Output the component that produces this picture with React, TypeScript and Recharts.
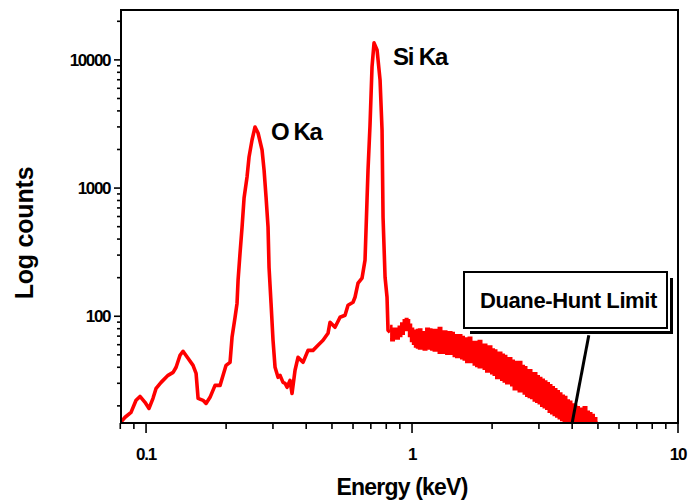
import React from 'react';
import { ComposedChart, Line, Area, XAxis, YAxis, ReferenceArea, ReferenceLine } from 'recharts';

// Smooth part of the spectrum (keV, counts)
const lineEnergy = [0.0805, 0.0834, 0.0878, 0.0917, 0.0949, 0.0991, 0.1026, 0.1062, 0.1091, 0.1139, 0.121, 0.1264, 0.1297, 0.1342, 0.1377, 0.1438, 0.1502, 0.1542, 0.1569, 0.1638, 0.1681, 0.174, 0.1817, 0.1898, 0.1948, 0.1999, 0.2069, 0.2105, 0.2161, 0.2198, 0.2218, 0.2256, 0.2296, 0.2336, 0.2397, 0.2439, 0.2503, 0.2569, 0.2637, 0.273, 0.2778, 0.2826, 0.2875, 0.29, 0.2951, 0.3002, 0.3055, 0.3135, 0.319, 0.3273, 0.3331, 0.3389, 0.3477, 0.3538, 0.3632, 0.3727, 0.3892, 0.4064, 0.4244, 0.4432, 0.4628, 0.4832, 0.4917, 0.5134, 0.5362, 0.5599, 0.5745, 0.6, 0.6104, 0.6266, 0.6486, 0.6657, 0.6773, 0.6832, 0.6951, 0.7073, 0.7197, 0.7388, 0.7582, 0.7714, 0.7781, 0.7918, 0.8054, 0.8124, 0.8266];
const lineCounts = [15, 16.3, 17.8, 22.1, 23.7, 21.3, 19.1, 22.9, 27.4, 30.5, 34.6, 36.5, 40, 49.6, 53.3, 47, 41.4, 35.9, 22.9, 22.1, 20.9, 23.3, 28.9, 28.9, 34.6, 41.4, 43.7, 68.5, 98.2, 126, 191, 311, 496, 835, 1219, 1746, 2371, 2997, 2691, 1981, 1382, 850, 496, 241, 126, 64.9, 40, 33.4, 34.6, 30.5, 30, 27.9, 31.6, 25, 37.9, 47.8, 43.7, 54.2, 54.2, 59.3, 64.9, 73.6, 89.8, 82, 98.2, 101.8, 121.9, 128.6, 140.7, 181, 198, 274, 805, 1382, 3105, 8816, 13570, 11970, 6980, 2838, 593, 201.6, 140.7, 77.8, 75];

// Noisy high-energy part: upper and lower envelope of the scatter
const bandEnergy = [0.827, 0.845, 0.863, 0.882, 0.901, 0.921, 0.941, 0.955, 0.966, 0.983, 1.0, 1.018, 1.035, 1.053, 1.072, 1.095, 1.119, 1.144, 1.169, 1.195, 1.22, 1.247, 1.274, 1.302, 1.331, 1.36, 1.39, 1.42, 1.451, 1.483, 1.515, 1.548, 1.582, 1.617, 1.652, 1.688, 1.725, 1.763, 1.801, 1.841, 1.881, 1.922, 1.964, 2.007, 2.051, 2.096, 2.142, 2.189, 2.236, 2.285, 2.335, 2.386, 2.439, 2.492, 2.547, 2.603, 2.659, 2.718, 2.777, 2.838, 2.9, 2.963, 3.028, 3.094, 3.162, 3.231, 3.302, 3.374, 3.448, 3.524, 3.601, 3.68, 3.76, 3.842, 3.926, 4.012, 4.1, 4.19, 4.281, 4.375, 4.471, 4.569, 4.669, 4.771, 4.875, 4.98];
const bandHigh = [84, 80, 78, 80, 83, 88, 93, 95, 93, 86, 80, 77, 73, 78, 79, 74, 75, 80, 79, 74, 78, 77, 81, 76, 76, 73, 75, 74, 71, 68, 71, 69, 67, 65, 68, 62, 63, 63, 64, 59, 60, 57, 58, 55, 54, 51, 52, 50, 49, 46, 47, 45, 44, 43, 44, 41, 40, 38, 38, 35, 36, 34, 33, 32, 31, 30, 29, 28, 27, 26, 25, 24, 23.5, 22, 21.5, 20.5, 20, 19.5, 19, 19, 19.5, 18, 17.5, 17, 16, 15.2];
const bandLow = [66, 65, 67, 67, 70, 73, 78, 80, 78, 70, 64, 61, 58, 57, 56, 57, 55, 57, 56, 55, 54, 54, 52, 55, 52, 51, 51, 52, 49, 48, 48, 47, 46, 44, 44, 44, 42, 41, 40, 40, 39, 37, 37, 36, 35, 33, 33, 32, 31, 30, 30, 29, 27, 27, 26, 26, 25, 24, 23.5, 23, 22, 21.5, 21, 20, 19.5, 19, 18, 17.5, 17, 16.5, 16, 15.5, 15, 14.7, 14.7, 14.7, 14.7, 14.7, 14.7, 14.7, 14.7, 14.7, 14.7, 14.7, 14.7, 14.7];

const xMajorTicks = [0.1, 1, 10];
const xMinorTicks = [0.08, 0.09, 0.2, 0.3, 0.4, 0.5, 0.6, 0.7, 0.8, 0.9, 2, 3, 4, 5, 6, 7, 8, 9];
const yMajorTicks = [100, 1000, 10000];
const yMinorTicks = [20, 30, 40, 50, 60, 70, 80, 90, 200, 300, 400, 500, 600, 700, 800, 900, 2000, 3000, 4000, 5000, 6000, 7000, 8000, 9000, 20000];

const X_DOMAIN = [0.0805, 10];
const Y_DOMAIN = [14.7, 24500];
const duaneHuntEnergy = 4.0;
const duaneHuntPointer = { x: 4.62, y: 71 };

const peakLabels = ['O Ka', 'Si Ka'];
const calloutText = 'Duane-Hunt Limit';
const xTitle = 'Energy (keV)';
const yTitle = 'Log counts';

const lineData = lineEnergy.map((e, i) => ({ e, c: lineCounts[i] }));
const bandData = bandEnergy.map((e, i) => ({ e, r: [bandLow[i], bandHigh[i]] }));

const FONT = "'Liberation Sans', Arial, Helvetica, sans-serif";

const XTick = (props: any) => {
  const { x, y, payload } = props;
  const major = xMajorTicks.includes(payload.value);
  return (
    <g>
      <line x1={x} x2={x} y1={y} y2={y + (major ? 10 : 6)} stroke="#000" strokeWidth={1.6} />
      {major && (
        <text x={x} y={y + 37} textAnchor="middle" fontFamily={FONT} fontWeight="bold" fontSize={17} letterSpacing={-1.2} fill="#000">
          {String(payload.value)}
        </text>
      )}
    </g>
  );
};

const YTick = (props: any) => {
  const { x, y, payload } = props;
  const major = yMajorTicks.includes(payload.value);
  return (
    <g>
      <line x1={x - (major ? 7 : 4)} x2={x} y1={y} y2={y} stroke="#000" strokeWidth={1.6} />
      {major && (
        <text x={x - 11} y={y} dy="0.36em" textAnchor="end" fontFamily={FONT} fontWeight="bold" fontSize={17} letterSpacing={-1.4} fill="#000">
          {String(payload.value)}
        </text>
      )}
    </g>
  );
};

export default function App() {
  return (
    <div style={{ position: 'absolute', left: 0, top: 0, width: 689, height: 502, background: '#fff' }}>
      <ComposedChart width={689} height={502} margin={{ top: 10, right: 11, bottom: 0, left: 0 }}>
        <XAxis
          dataKey="e"
          type="number"
          scale="log"
          domain={X_DOMAIN}
          allowDataOverflow
          ticks={[...xMinorTicks, ...xMajorTicks].sort((a, b) => a - b)}
          interval={0}
          tickSize={0}
          tickMargin={0}
          tickLine={false}
          axisLine={{ stroke: '#000', strokeWidth: 2 }}
          tick={<XTick />}
          height={79}
        />
        <YAxis
          type="number"
          scale="log"
          domain={Y_DOMAIN}
          allowDataOverflow
          ticks={[...yMinorTicks, ...yMajorTicks].sort((a, b) => a - b)}
          interval={0}
          tickSize={0}
          tickMargin={0}
          tickLine={false}
          axisLine={{ stroke: '#000', strokeWidth: 2 }}
          tick={<YTick />}
          width={121}
        />
        <ReferenceArea x1={X_DOMAIN[0]} x2={X_DOMAIN[1]} y1={Y_DOMAIN[0]} y2={Y_DOMAIN[1]} fill="none" fillOpacity={0} stroke="#000" strokeWidth={2} ifOverflow="visible" />
        <Area data={bandData} dataKey="r" type="step" stroke="#ff0000" strokeWidth={2.5} fill="#ff0000" fillOpacity={1} dot={false} activeDot={false} isAnimationActive={false} />
        <Line data={lineData} dataKey="c" type="linear" stroke="#ff0000" strokeWidth={3.6} strokeLinejoin="round" dot={false} activeDot={false} isAnimationActive={false} />
        <ReferenceLine segment={[{ x: duaneHuntEnergy, y: Y_DOMAIN[0] }, duaneHuntPointer]} stroke="#000" strokeWidth={3} ifOverflow="visible" />
      </ComposedChart>
      <svg width={689} height={502} style={{ position: 'absolute', left: 0, top: 0, pointerEvents: 'none' }}>
        <text x={271} y={140} fontFamily={FONT} fontWeight="bold" fontSize={24} letterSpacing={-1.4} fill="#000">{peakLabels[0]}</text>
        <text x={393} y={65} fontFamily={FONT} fontWeight="bold" fontSize={24} letterSpacing={-1.2} fill="#000">{peakLabels[1]}</text>
        <rect x={470} y={278} width={203} height={56} fill="#000" />
        <rect x={463} y={271} width={207} height={60} fill="#fff" />
        <rect x={464} y={272} width={203} height={56} fill="#fff" stroke="#000" strokeWidth={2} />
        <text x={480} y={308} fontFamily={FONT} fontWeight="bold" fontSize={22} letterSpacing={-0.4} fill="#000">{calloutText}</text>
        <text x={402} y={495} textAnchor="middle" fontFamily={FONT} fontWeight="bold" fontSize={23} letterSpacing={-0.8} fill="#000">{xTitle}</text>
        <text x={33} y={233} textAnchor="middle" transform="rotate(-90 33 233)" fontFamily={FONT} fontWeight="bold" fontSize={25} letterSpacing={-0.2} fill="#000">{yTitle}</text>
      </svg>
    </div>
  );
}
